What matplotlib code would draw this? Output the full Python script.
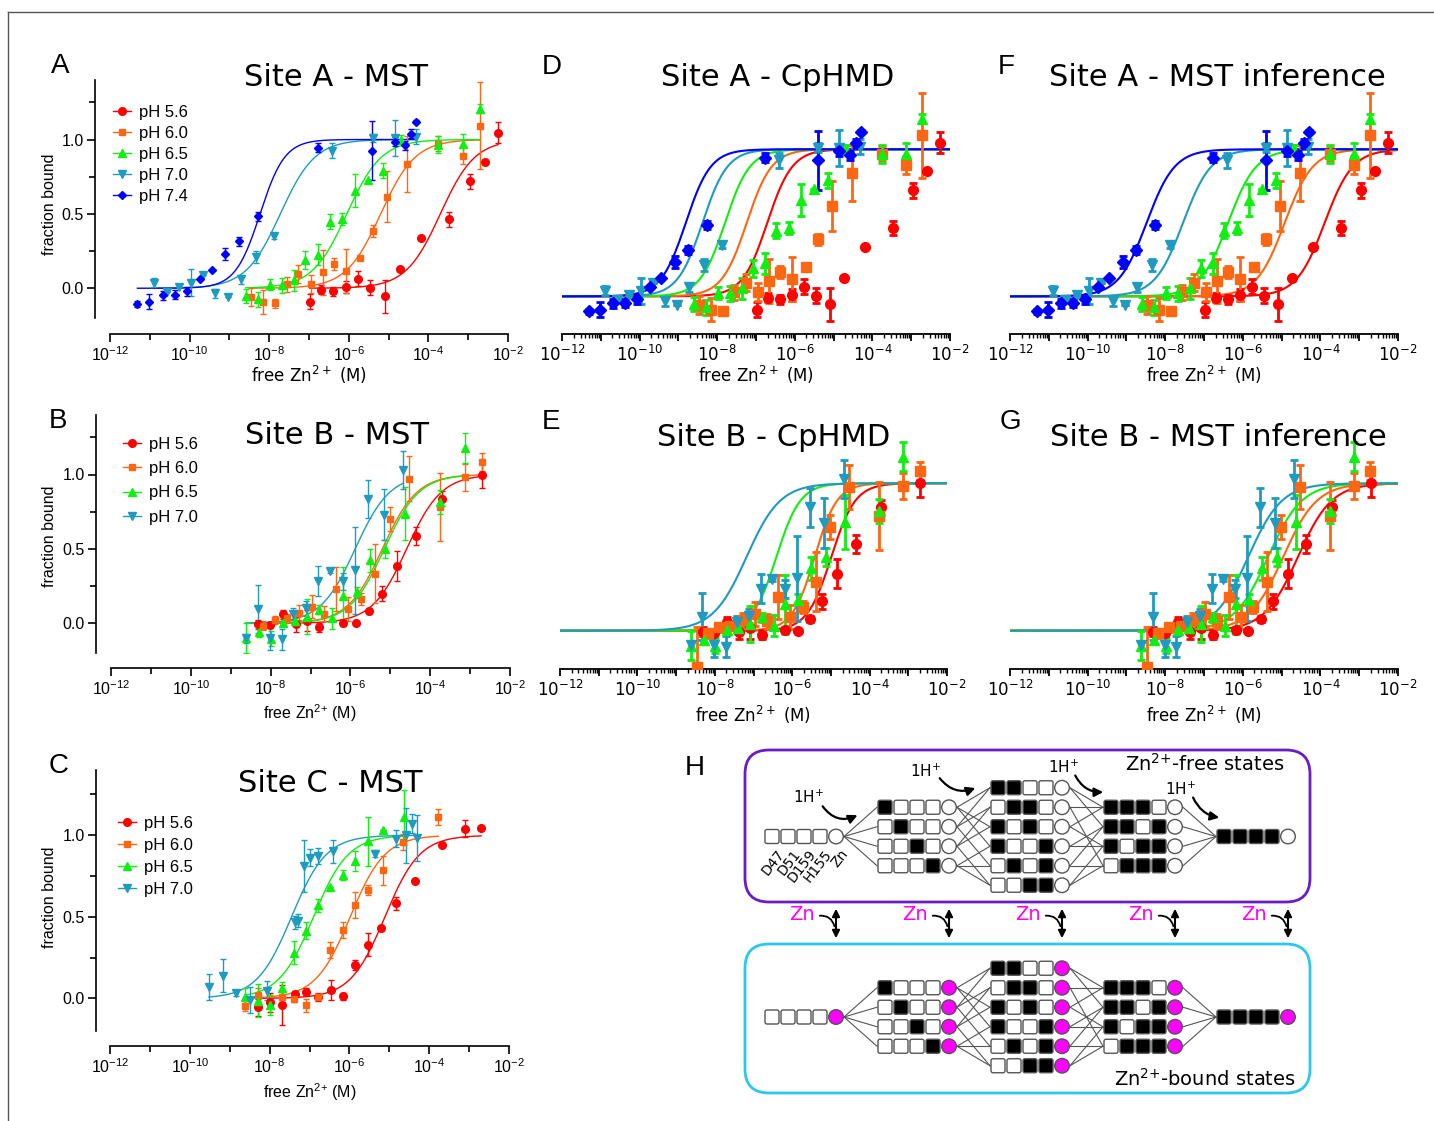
import numpy as np
import matplotlib
matplotlib.use("Agg")
import matplotlib.pyplot as plt
from matplotlib.lines import Line2D
from matplotlib.patches import FancyBboxPatch, Circle, FancyArrowPatch

plt.rcParams['font.family'] = ['DejaVu Sans']
plt.rcParams['mathtext.fontset'] = 'custom'
plt.rcParams['mathtext.rm'] = 'Liberation Sans'
plt.rcParams['mathtext.it'] = 'Liberation Sans:italic'
plt.rcParams['mathtext.bf'] = 'Liberation Sans:bold'

# ======================= DATA =======================
ph_A = ['pH 5.6', 'pH 6.0', 'pH 6.5', 'pH 7.0', 'pH 7.4']
ph_BC = ['pH 5.6', 'pH 6.0', 'pH 6.5', 'pH 7.0']

# Site A (MST measurements; log10 free Zn, fraction bound, error)
a56_x = [-6.98, -6.69, -6.39, -6.08, -5.77, -5.46, -5.10, -4.72, -4.18, -3.48, -2.96, -2.59, -2.25]
a56_y = [-0.09, -0.01, -0.02, 0.01, 0.065, 0.005, -0.055, 0.128, 0.335, 0.465, 0.72, 0.85, 1.045]
a56_e = [0.05, 0.03, 0.03, 0.04, 0.05, 0.05, 0.11, 0.0, 0.0, 0.05, 0.05, 0.0, 0.07]
a60_x = [-8.46, -8.15, -7.86, -7.56, -7.27, -6.95, -6.66, -6.37, -6.06, -5.72, -5.39, -5.03, -4.53, -3.76, -3.13, -2.71]
a60_y = [-0.06, -0.09, -0.10, 0.027, 0.094, 0.031, 0.106, 0.166, 0.117, 0.202, 0.387, 0.616, 0.836, 0.971, 0.892, 1.094]
a60_e = [0.06, 0.08, 0.03, 0.05, 0.06, 0.06, 0.15, 0.04, 0.15, 0.0, 0.04, 0.17, 0.19, 0.05, 0.06, 0.29]
a65_x = [-8.59, -8.28, -7.98, -7.67, -7.37, -7.09, -6.77, -6.48, -6.16, -5.85, -5.51, -5.14, -4.68, -3.76, -3.13, -2.71]
a65_y = [-0.052, -0.074, 0.025, 0.02, 0.054, 0.19, 0.225, 0.447, 0.465, 0.656, 0.728, 0.79, 1.0, 0.966, 0.97, 1.207]
a65_e = [0.05, 0.05, 0.04, 0.05, 0.07, 0.06, 0.07, 0.05, 0.04, 0.11, 0.0, 0.05, 0.03, 0.06, 0.07, 0.03]
a70_x = [-10.9, -10.58, -10.27, -9.97, -9.66, -9.35, -9.03, -8.72, -8.34, -7.87, -6.41, -5.39, -4.85, -4.32]
a70_y = [0.038, -0.022, 0.009, 0.038, 0.088, -0.034, -0.056, 0.061, 0.213, 0.348, 0.924, 1.01, 1.009, 1.018]
a70_e = [0.03, 0.0, 0.0, 0.09, 0.0, 0.03, 0.0, 0.03, 0.04, 0.02, 0.05, 0.03, 0.12, 0.05]
a74_x = [-11.31, -11.01, -10.68, -10.37, -10.06, -9.74, -9.44, -9.10, -8.75, -8.27, -6.77, -5.41, -4.85, -4.59, -4.43, -4.30]
a74_y = [-0.103, -0.09, -0.047, -0.045, -0.02, 0.065, 0.124, 0.231, 0.315, 0.485, 0.944, 0.926, 0.986, 0.96, 1.04, 1.12]
a74_e = [0.02, 0.05, 0.03, 0.03, 0.03, 0.0, 0.0, 0.04, 0.03, 0.03, 0.03, 0.2, 0.03, 0.03, 0.03, 0.01]

# Site B (MST measurements)
b56_x = [-8.31, -8.01, -7.68, -7.37, -7.08, -6.78, -6.18, -5.86, -5.54, -5.22, -4.84, -4.36, -3.70, -2.69]
b56_y = [-0.007, -0.013, 0.06, -0.007, 0.016, -0.027, 0.004, 0.0, 0.081, 0.2, 0.387, 0.589, 0.838, 1.0]
b56_e = [0.03, 0.02, 0.03, 0.05, 0.07, 0.03, 0.02, 0.0, 0.02, 0.05, 0.1, 0.06, 0.05, 0.09]
b60_x = [-8.47, -8.18, -7.89, -7.60, -7.28, -6.97, -6.66, -6.36, -6.05, -5.73, -5.38, -5.02, -4.52, -3.75, -3.13, -2.71]
b60_y = [-0.244, -0.018, 0.022, 0.034, 0.072, 0.112, 0.063, 0.229, 0.094, 0.162, 0.333, 0.703, 0.973, 0.78, 0.98, 1.083]
b60_e = [0.27, 0.03, 0.03, 0.03, 0.05, 0.08, 0.05, 0.15, 0.08, 0.04, 0.2, 0.08, 0.15, 0.23, 0.09, 0.06]
b65_x = [-8.62, -8.28, -7.99, -7.68, -7.39, -7.08, -6.78, -6.47, -6.18, -5.84, -5.51, -5.13, -4.63, -3.75, -3.13]
b65_y = [-0.101, -0.061, -0.103, 0.004, 0.016, 0.045, 0.09, 0.034, 0.18, 0.207, 0.422, 0.5, 0.737, 0.813, 1.18]
b65_e = [0.1, 0.03, 0.05, 0.03, 0.03, 0.12, 0.03, 0.07, 0.2, 0.04, 0.08, 0.06, 0.18, 0.08, 0.1]
b70_x = [-8.62, -8.32, -8.01, -7.71, -7.43, -7.11, -6.80, -6.51, -6.19, -5.88, -5.55, -5.17, -4.67]
b70_y = [-0.10, 0.094, -0.10, -0.108, 0.06, 0.10, 0.285, 0.348, 0.281, 0.355, 0.836, 0.73, 1.03]
b70_e = [0.03, 0.16, 0.08, 0.07, 0.04, 0.05, 0.1, 0.01, 0.06, 0.29, 0.13, 0.17, 0.13]

# Site C (MST measurements)
c56_x = [-8.30, -7.99, -7.68, -7.36, -7.09, -6.78, -6.47, -6.17, -5.86, -5.54, -5.21, -4.84, -4.36, -3.69, -3.10, -2.70]
c56_y = [-0.055, -0.025, -0.041, 0.027, 0.041, 0.006, 0.051, 0.012, 0.207, 0.328, 0.432, 0.584, 0.719, 0.939, 1.041, 1.047]
c56_e = [0.05, 0.06, 0.12, 0.02, 0.02, 0.02, 0.06, 0.02, 0.03, 0.07, 0.0, 0.04, 0.0, 0.0, 0.05, 0.0]
c60_x = [-8.62, -8.30, -7.68, -7.39, -7.09, -6.78, -6.49, -6.17, -5.86, -5.53, -5.15, -4.65, -3.77]
c60_y = [-0.049, 0.023, 0.01, -0.004, -0.041, 0.01, 0.297, 0.42, 0.57, 0.662, 0.785, 0.959, 1.113]
c60_e = [0.03, 0.04, 0.03, 0.02, 0.04, 0.02, 0.05, 0.05, 0.08, 0.03, 0.09, 0.05, 0.05]
c65_x = [-8.62, -8.30, -7.99, -7.68, -7.39, -7.09, -6.78, -6.49, -6.17, -5.86, -5.53, -5.15, -4.63]
c65_y = [0.006, -0.014, -0.041, 0.061, 0.279, 0.416, 0.57, 0.682, 0.754, 0.842, 0.963, 1.035, 1.109]
c65_e = [0.06, 0.1, 0.06, 0.04, 0.07, 0.05, 0.04, 0.0, 0.03, 0.06, 0.15, 0.0, 0.17]
c70_x = [-9.52, -9.16, -8.83, -8.49, -8.06, -7.36, -7.28, -7.15, -7.00, -6.78, -6.40, -5.36, -4.83, -4.58, -4.44, -4.31]
c70_y = [0.072, 0.139, 0.033, -0.01, 0.047, 0.467, 0.477, 0.811, 0.863, 0.871, 0.902, 0.887, 0.98, 1.0, 1.072, 0.984]
c70_e = [0.08, 0.1, 0.02, 0.08, 0.06, 0.04, 0.04, 0.16, 0.05, 0.05, 0.07, 0.02, 0.05, 0.17, 0.06, 0.14]

# Hill-curve parameters (log10 K, Hill coefficient) for each pH
mstA_logK = [-3.70, -5.20, -6.05, -7.72, -8.23]
mstA_n = [1.0, 1.0, 1.0, 1.0, 1.4]
mstB_logK = [-4.59, -5.20, -5.15, -5.88]
mstB_n = [1.0, 1.0, 1.0, 1.0]
mstC_logK = [-5.11, -5.98, -6.90, -7.45]
mstC_n = [1.0, 1.0, 1.0, 1.0]
cphA_logK = [-6.71, -7.24, -7.80, -8.38, -8.81]
cphA_n = [1.35, 1.35, 1.35, 1.35, 1.35]
cphB_logK = [-4.99, -5.42, -6.41, -7.18]
cphB_n = [1.4, 1.5, 1.4, 1.0]
infA_logK = [-3.89, -4.92, -6.38, -7.54, -8.48]
infA_n = [1.2, 1.2, 1.2, 1.2, 1.2]
infB_logK = [-4.58, -4.96, -5.35, -5.86]
infB_n = [1.0, 1.0, 1.0, 1.0]

# protonation states for panel H
stages = [['0000'],
          ['1000', '0100', '0010', '0001'],
          ['1100', '0110', '1010', '1001', '0101', '0011'],
          ['1110', '1101', '1011', '0111'],
          ['1111']]
residues = ['D47', 'D51', 'D159', 'H155', 'Zn']

# ======================= STYLE =======================
colors = ['#FF0000', '#FF6611', '#11EE11', '#1F9BC0', '#0000FF']
markers = ['o', 's', '^', 'v', 'D']
ms_mst = [5.5, 5.0, 5.5, 5.5, 4.5]
ms_cp = [7.0, 6.5, 7.0, 7.0, 6.0]

siteA = [(a56_x, a56_y, a56_e), (a60_x, a60_y, a60_e), (a65_x, a65_y, a65_e),
         (a70_x, a70_y, a70_e), (a74_x, a74_y, a74_e)]
siteB = [(b56_x, b56_y, b56_e), (b60_x, b60_y, b60_e), (b65_x, b65_y, b65_e),
         (b70_x, b70_y, b70_e)]
siteC = [(c56_x, c56_y, c56_e), (c60_x, c60_y, c60_e), (c65_x, c65_y, c65_e),
         (c70_x, c70_y, c70_e)]

W, H = 1434, 1121
fig = plt.figure(figsize=(W / 100, H / 100), dpi=100)
PT = 72.0 / 100.0  # points per pixel


def frect(l, t, r, b):
    return [l / W, 1 - b / H, (r - l) / W, (b - t) / H]


def ftext(x, y, s, **kw):
    return fig.text(x / W, 1 - y / H, s, **kw)


def hill(lx, lk, n):
    return 1.0 / (1.0 + 10.0 ** (n * (lk - lx)))


def mst_panel(l, t, r, b, offx, offy, data, logK, nh, labels, leg_xy, leg_ls):
    ax = fig.add_axes(frect(l, t, r, b))
    ax.set_facecolor('none')
    ax.set_xscale('log')
    ax.set_xlim(1e-12, 1e-2)
    ax.set_ylim(-0.2, 1.4)
    for i, (sx, sy, se) in enumerate(data):
        sx = np.array(sx); sy = np.array(sy); se = np.array(se)
        xs = np.linspace(sx.min(), sx.max(), 300)
        ax.plot(10 ** xs, hill(xs, logK[i], nh[i]), color=colors[i], lw=1.0, zorder=2)
        keep = sy > -0.2
        ax.errorbar(10 ** sx[keep], sy[keep], yerr=se[keep], fmt=markers[i], color=colors[i],
                    ms=ms_mst[i], mec=colors[i], elinewidth=1.0, capsize=2.5, capthick=1.0, zorder=3)
    for s in ['top', 'right']:
        ax.spines[s].set_visible(False)
    ax.spines['left'].set_position(('outward', offy * PT))
    ax.spines['bottom'].set_position(('outward', offx * PT))
    for s in ['left', 'bottom']:
        ax.spines[s].set_linewidth(1.2)
    ax.set_xticks([10.0 ** e for e in range(-12, -1, 2)])
    ax.set_xticklabels([r'$\mathrm{10^{%d}}$' % e for e in range(-12, -1, 2)],
                       fontsize=11.5, fontfamily='Liberation Sans')
    ax.set_xticks([10.0 ** e for e in range(-11, -2, 2)], minor=True)
    ax.set_xticklabels([], minor=True)
    ax.set_yticks([0.0, 0.5, 1.0])
    ax.set_yticklabels(['0.0', '0.5', '1.0'], fontsize=11.5, fontfamily='Liberation Sans')
    ax.set_yticks([0.25, 0.75, 1.25], minor=True)
    ax.tick_params(which='major', length=6, width=1.2, pad=2)
    ax.tick_params(which='minor', length=4, width=1.2)
    handles = [Line2D([0], [0], color=colors[i], marker=markers[i], ms=ms_mst[i], lw=1.0)
               for i in range(len(labels))]
    ax.legend(handles, labels, loc='upper left', bbox_to_anchor=(leg_xy[0] / W, 1 - leg_xy[1] / H),
              bbox_transform=fig.transFigure, frameon=False, borderpad=0, borderaxespad=0,
              handlelength=1.05, handletextpad=0.5, labelspacing=leg_ls,
              prop={'family': 'Liberation Sans', 'size': 12})
    return ax


def model_panel(l, t, r, b, ylim, data, logK, nh):
    ax = fig.add_axes(frect(l, t, r, b))
    ax.set_facecolor('none')
    ax.set_xscale('log')
    ax.set_xlim(1e-12, 1e-2)
    ax.set_ylim(*ylim)
    xs = np.linspace(-12, -2, 500)
    for i in range(len(data)):
        ax.plot(10 ** xs, hill(xs, logK[i], nh[i]), color=colors[i], lw=1.5, zorder=2)
    for i, (sx, sy, se) in enumerate(data):
        ax.errorbar(10 ** np.array(sx), sy, yerr=se, fmt=markers[i], color=colors[i],
                    ms=ms_cp[i], mec=colors[i], elinewidth=2.0, capsize=3, capthick=2.0, zorder=3)
    for s in ['top', 'right', 'left']:
        ax.spines[s].set_visible(False)
    ax.spines['bottom'].set_linewidth(1.3)
    ax.yaxis.set_visible(False)
    ax.set_xticks([10.0 ** e for e in range(-12, -1)])
    ax.set_xticklabels([(r'$10^{%d}$' % e) if e % 2 == 0 else '' for e in range(-12, -1)],
                       fontsize=12, fontfamily='DejaVu Sans', math_fontfamily='dejavusans')
    minors = [k * 10.0 ** e for e in range(-12, -2) for k in range(2, 10)]
    ax.set_xticks(minors, minor=True)
    ax.set_xticklabels([], minor=True)
    ax.tick_params(which='major', length=5, width=1.3, pad=3)
    ax.tick_params(which='minor', length=3, width=1.0)
    return ax


# ---------------- MST panels ----------------
mst_panel(110, 80, 508, 318, 16, 15, siteA, mstA_logK, mstA_n, ph_A, (113, 105), 0.36)
mst_panel(111, 415, 510, 653, 15, 15, siteB, mstB_logK, mstB_n, ph_BC, (123, 437), 0.55)
mst_panel(110, 770, 509, 1031, 15, 14, siteC, mstC_logK, mstC_n, ph_BC, (118, 816), 0.42)

# ---------------- model panels ----------------
ylimA = (-0.256, 1.471)
ylimB = (-0.26, 1.463)
model_panel(562, 80, 950, 334, ylimA, siteA, cphA_logK, cphA_n)
model_panel(560, 415, 947, 669, ylimB, siteB, cphB_logK, cphB_n)
model_panel(1010, 80, 1398, 334, ylimA, siteA, infA_logK, infA_n)
model_panel(1010, 415, 1398, 669, ylimB, siteB, infB_logK, infB_n)

# ---------------- texts ----------------
tkw = dict(fontsize=22, fontfamily='DejaVu Sans', ha='center', va='center')
ftext(336, 78, 'Site A - MST', **tkw)
ftext(337, 436, 'Site B - MST', **tkw)
ftext(330, 783, 'Site C - MST', **tkw)
ftext(778, 78, 'Site A - CpHMD', **tkw)
ftext(774, 437, 'Site B - CpHMD', **tkw)
ftext(1217, 78, 'Site A - MST inference', **tkw)
ftext(1218, 437, 'Site B - MST inference', **tkw)

lkw = dict(fontsize=20, fontfamily='Liberation Sans', ha='center', va='center')
for lab, (x, y) in zip('ABCDEFGH', [(60, 66), (58, 421), (59, 766), (552, 67), (551, 422),
                                   (1006, 67), (1010, 422), (695, 768)]):
    ftext(x, y, lab, **lkw)

ykw = dict(fontsize=11.5, fontfamily='Liberation Sans', ha='center', va='center', rotation=90)
ftext(49, 204, 'fraction bound', **ykw)
ftext(49, 536, 'fraction bound', **ykw)
ftext(49, 897, 'fraction bound', **ykw)

xkw_dv = dict(fontsize=12, fontfamily='DejaVu Sans', math_fontfamily='dejavusans', ha='center', va='center')
xkw_ls = dict(fontsize=11.5, fontfamily='Liberation Sans', ha='center', va='center')
ftext(309, 375, r'free Zn$^{2+}$ (M)', **xkw_dv)
ftext(310, 713, r'free Zn$^{2{+}}$ (M)', **xkw_ls)
ftext(310, 1092, r'free Zn$^{2{+}}$ (M)', **xkw_ls)
ftext(756, 375, r'free Zn$^{2+}$ (M)', **xkw_dv)
ftext(753, 715, r'free Zn$^{2+}$ (M)', **xkw_dv)
ftext(1204, 375, r'free Zn$^{2+}$ (M)', **xkw_dv)
ftext(1204, 715, r'free Zn$^{2+}$ (M)', **xkw_dv)

# ---------------- overlay (frame + panel H) ----------------
ov = fig.add_axes([0, 0, 1, 1], zorder=-1)
ov.set_xlim(0, W)
ov.set_ylim(H, 0)
ov.axis('off')
ov.plot([8, W], [12, 12], color='#555555', lw=1.0)
ov.plot([8, 8], [12, H], color='#555555', lw=1.0)

ov.add_patch(FancyBboxPatch((745, 750), 565, 152, boxstyle='round,pad=0,rounding_size=24',
                            fc='none', ec='#6A1CC6', lw=2.0))
ov.add_patch(FancyBboxPatch((745, 944), 565, 149, boxstyle='round,pad=0,rounding_size=24',
                            fc='none', ec='#2CC6EE', lw=2.0))

x_first, x_step = 765, 113
sq, sq_step = 14, 16
row_y = [836.5, 1017.0]
state_step = 19.5
zn_fc = ['white', '#FF00FF']
edge = '#555555'


def state_y(row, s, i):
    return row_y[row] + (i - (len(stages[s]) - 1) / 2.0) * state_step


for row in (0, 1):
    for s, pats in enumerate(stages):
        x0 = x_first + s * x_step
        for i, p in enumerate(pats):
            yc = state_y(row, s, i)
            for k, ch in enumerate(p):
                ov.add_patch(FancyBboxPatch((x0 + k * sq_step, yc - sq / 2), sq, sq,
                                            boxstyle='round,pad=0,rounding_size=2',
                                            fc='black' if ch == '1' else 'white', ec=edge, lw=1.0))
            ov.add_patch(Circle((x0 + 4 * sq_step + 7, yc), 7.3, fc=zn_fc[row], ec=edge, lw=1.0))
            if s < len(stages) - 1:
                for j, q in enumerate(stages[s + 1]):
                    if all(not (a == '1' and c == '0') for a, c in zip(p, q)):
                        ov.plot([x0 + 4 * sq_step + 15, x0 + x_step - 1], [yc, state_y(row, s + 1, j)],
                                color=edge, lw=0.8)

for k, name in enumerate(residues):
    ov.text(x_first + k * sq_step + 11, 847, name, rotation=52, rotation_mode='anchor',
            ha='right', va='top', fontsize=10, fontfamily='DejaVu Sans')

hplus = [((809, 797), (821, 804), (860, 814), 0.45),
         ((926, 771), (938, 776), (978, 787), 0.4),
         ((1064, 767), (1074, 773), (1106, 792), 0.35),
         ((1181, 789), (1192, 795), (1222, 818), 0.3)]
for (tx, ty), p0, p1, rad in hplus:
    ov.text(tx, ty, r'1H$^{+}$', fontsize=11, fontfamily='DejaVu Sans', math_fontfamily='dejavusans',
            ha='center', va='center')
    ov.add_patch(FancyArrowPatch(p0, p1, connectionstyle='arc3,rad=%s' % rad, arrowstyle='-|>',
                                 mutation_scale=13, lw=1.6, color='black'))

for s in range(len(stages)):
    xa = x_first + s * x_step + 71
    ov.add_patch(FancyArrowPatch((xa, 906), (xa, 941), arrowstyle='<|-|>', mutation_scale=11,
                                 lw=1.5, color='black'))
    ov.text(xa - 34, 915, 'Zn', color='#FF00FF', fontsize=14, fontfamily='DejaVu Sans',
            ha='center', va='center')
    ov.add_patch(FancyArrowPatch((xa - 19, 916), (xa - 1, 929), connectionstyle='arc3,rad=-0.5',
                                 arrowstyle='-', lw=1.3, color='black'))

ov.text(1284, 764, r'Zn$^{2{+}}$-free states', fontsize=14, fontfamily='DejaVu Sans',
        math_fontfamily='dejavusans', ha='right', va='center')
ov.text(1296, 1079, r'Zn$^{2{+}}$-bound states', fontsize=14, fontfamily='DejaVu Sans',
        math_fontfamily='dejavusans', ha='right', va='center')

fig.savefig('out.png', dpi=100, facecolor='white')
